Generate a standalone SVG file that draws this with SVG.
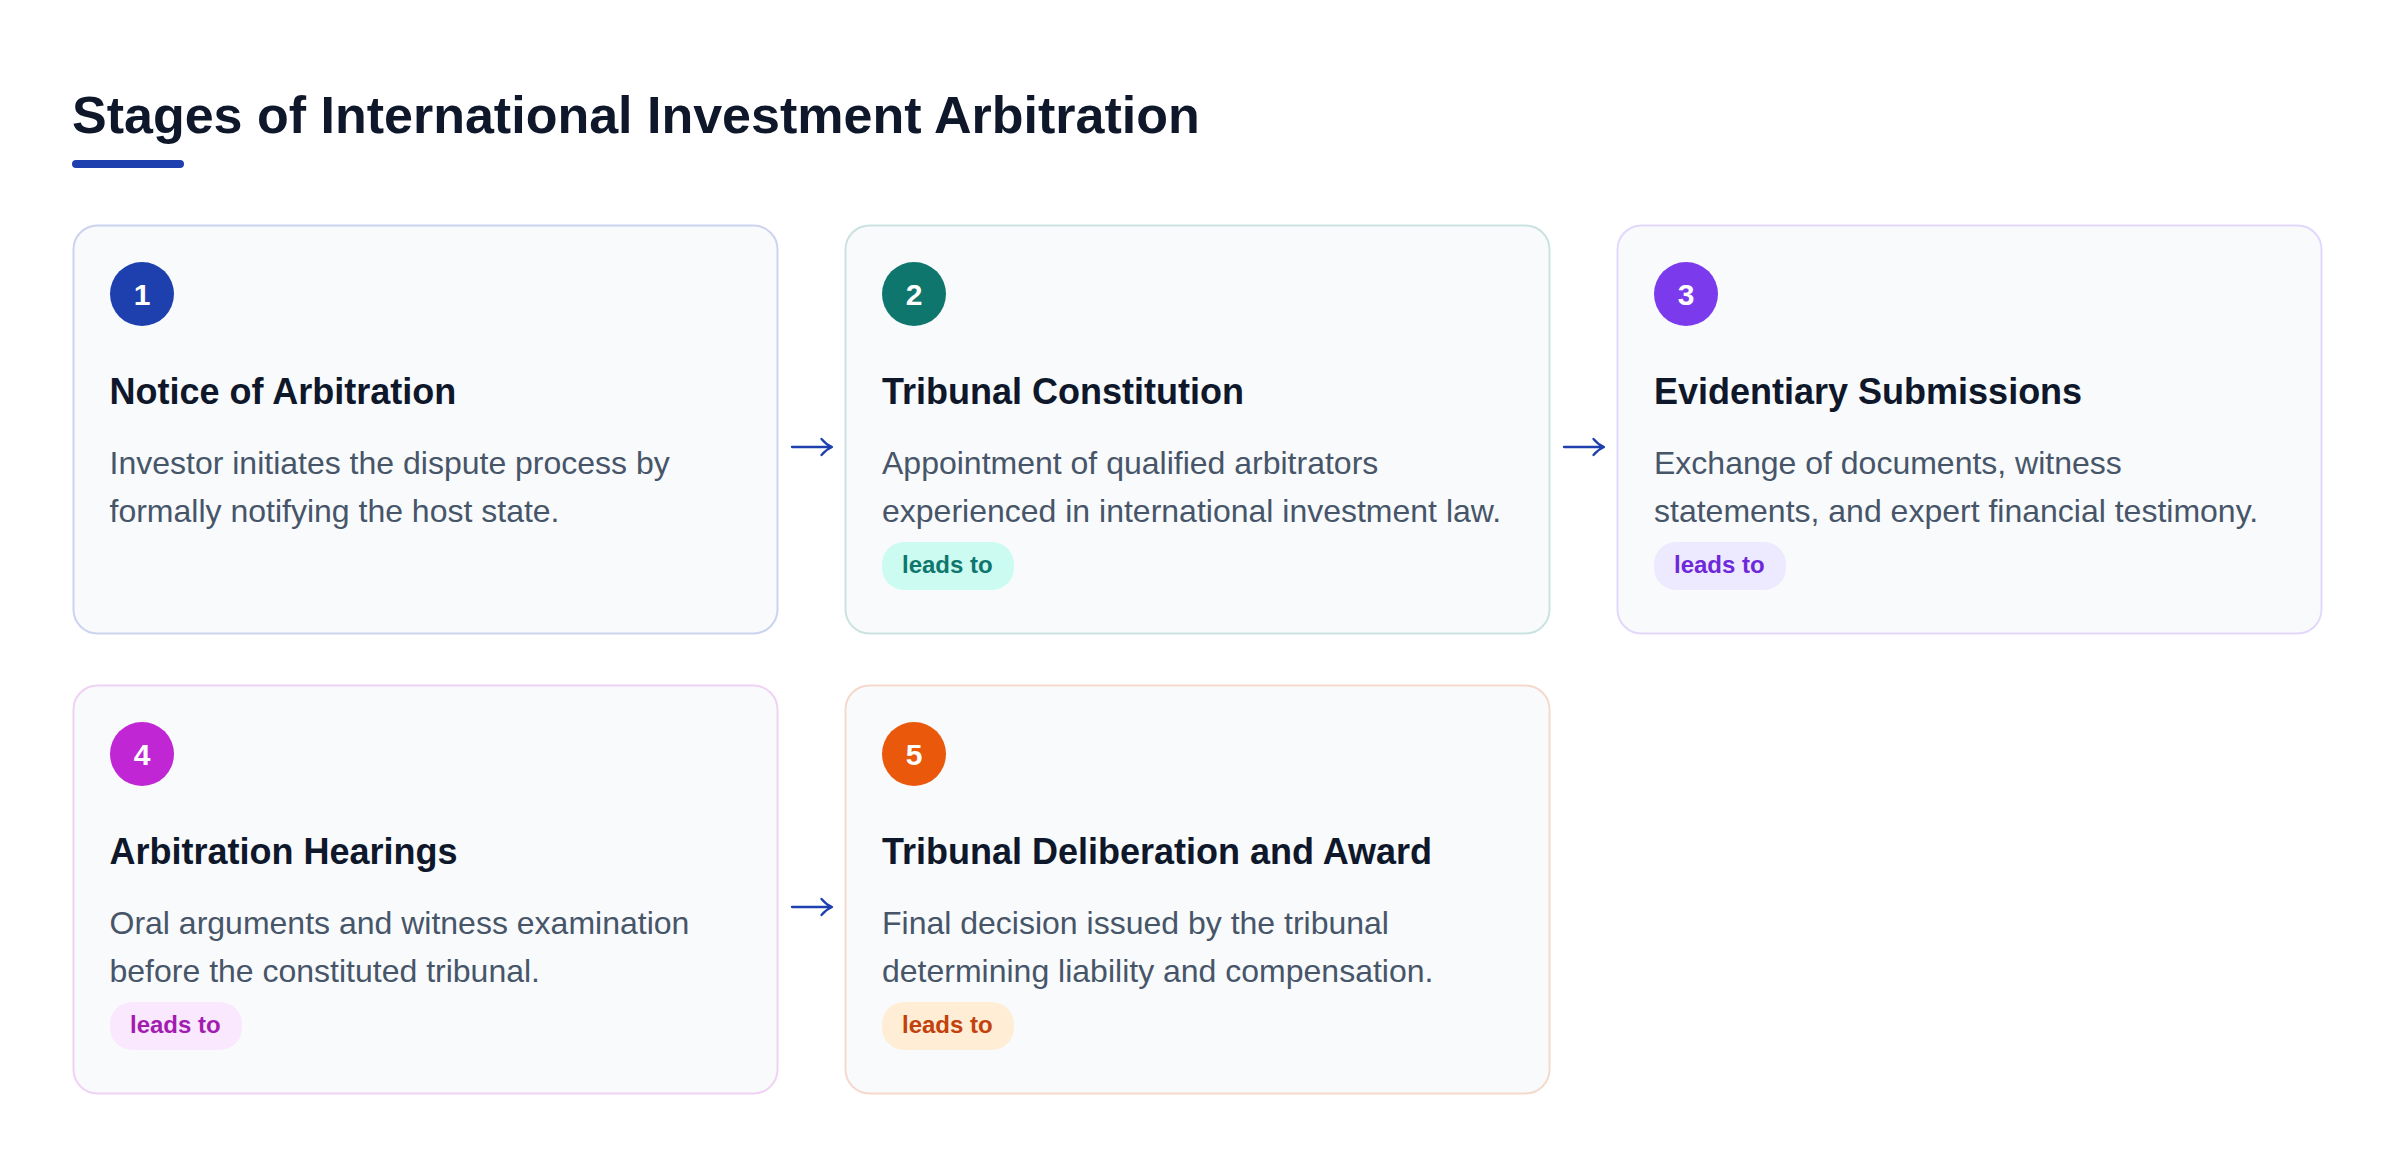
<svg xmlns="http://www.w3.org/2000/svg" width="2400" height="1168" viewBox="0 0 2400 1168">
<style>
text{font-family:"Liberation Sans",Arial,Helvetica,sans-serif}
.h1{font-size:52px;font-weight:700;fill:#0f172a}
.card{fill:#f8fafc;stroke-width:2}
.num{font-size:30px;font-weight:700;fill:#ffffff;text-anchor:middle}
.ttl{font-size:36px;font-weight:700;fill:#0f172a}
.desc{font-size:32px;fill:#475569}
.badge-t{font-size:24px;font-weight:700}
.arr{fill:none;stroke:#1e40af;stroke-width:2.3;stroke-linecap:round;stroke-linejoin:round}
</style>
<rect width="2400" height="1168" fill="#ffffff"/>
<g id="header">
<text class="h1" x="72" y="133">Stages of International Investment Arbitration</text>
<rect x="72" y="160" width="112" height="8" rx="4" fill="#1e40af"/>
</g>
<g id="stage1">
<rect class="card" x="73.5" y="225.5" width="704" height="408" rx="24" stroke="#cbd3ef"/>
<circle cx="142" cy="294" r="32" fill="#1e40af"/>
<text class="num" x="142" y="305">1</text>
<text class="ttl" x="109.5" y="403.5">Notice of Arbitration</text>
<text class="desc" x="109.5" y="473.5">Investor initiates the dispute process by</text>
<text class="desc" x="109.5" y="522">formally notifying the host state.</text>
</g>
<g id="stage2">
<rect class="card" x="845.5" y="225.5" width="704" height="408" rx="24" stroke="#cbe3e0"/>
<circle cx="914" cy="294" r="32" fill="#0f766e"/>
<text class="num" x="914" y="305">2</text>
<text class="ttl" x="882" y="403.5">Tribunal Constitution</text>
<text class="desc" x="882" y="473.5">Appointment of qualified arbitrators</text>
<text class="desc" x="882" y="522">experienced in international investment law.</text>
<rect x="882" y="542" width="132" height="48" rx="22" fill="#ccfbf1"/>
<text class="badge-t" x="902" y="573" fill="#0f766e">leads to</text>
</g>
<g id="stage3">
<rect class="card" x="1617.5" y="225.5" width="704" height="408" rx="24" stroke="#e3d8fb"/>
<circle cx="1686" cy="294" r="32" fill="#7c3aed"/>
<text class="num" x="1686" y="305">3</text>
<text class="ttl" x="1654" y="403.5">Evidentiary Submissions</text>
<text class="desc" x="1654" y="473.5">Exchange of documents, witness</text>
<text class="desc" x="1654" y="522">statements, and expert financial testimony.</text>
<rect x="1654" y="542" width="132" height="48" rx="22" fill="#ede9fe"/>
<text class="badge-t" x="1674" y="573" fill="#6d28d9">leads to</text>
</g>
<g id="stage4">
<rect class="card" x="73.5" y="685.5" width="704" height="408" rx="24" stroke="#f0d2f4"/>
<circle cx="142" cy="754" r="32" fill="#c026d3"/>
<text class="num" x="142" y="765">4</text>
<text class="ttl" x="109.5" y="863.5">Arbitration Hearings</text>
<text class="desc" x="109.5" y="933.5">Oral arguments and witness examination</text>
<text class="desc" x="109.5" y="982">before the constituted tribunal.</text>
<rect x="110" y="1002" width="132" height="48" rx="22" fill="#fae8ff"/>
<text class="badge-t" x="130" y="1033" fill="#a21caf">leads to</text>
</g>
<g id="stage5">
<rect class="card" x="845.5" y="685.5" width="704" height="408" rx="24" stroke="#f5d9cc"/>
<circle cx="914" cy="754" r="32" fill="#ea580c"/>
<text class="num" x="914" y="765">5</text>
<text class="ttl" x="882" y="863.5">Tribunal Deliberation and Award</text>
<text class="desc" x="882" y="933.5">Final decision issued by the tribunal</text>
<text class="desc" x="882" y="982">determining liability and compensation.</text>
<rect x="882" y="1002" width="132" height="48" rx="22" fill="#ffedd5"/>
<text class="badge-t" x="902" y="1033" fill="#c2410c">leads to</text>
</g>
<g id="connectors">
<path class="arr" d="M792,447 H831 M821.5,439 Q826,444.5 832,447 Q826,449.5 821.5,455"/>
<path class="arr" d="M1564,447 H1603 M1593.5,439 Q1598,444.5 1604,447 Q1598,449.5 1593.5,455"/>
<path class="arr" d="M792,907 H831 M821.5,899 Q826,904.5 832,907 Q826,909.5 821.5,915"/>
</g>
</svg>
